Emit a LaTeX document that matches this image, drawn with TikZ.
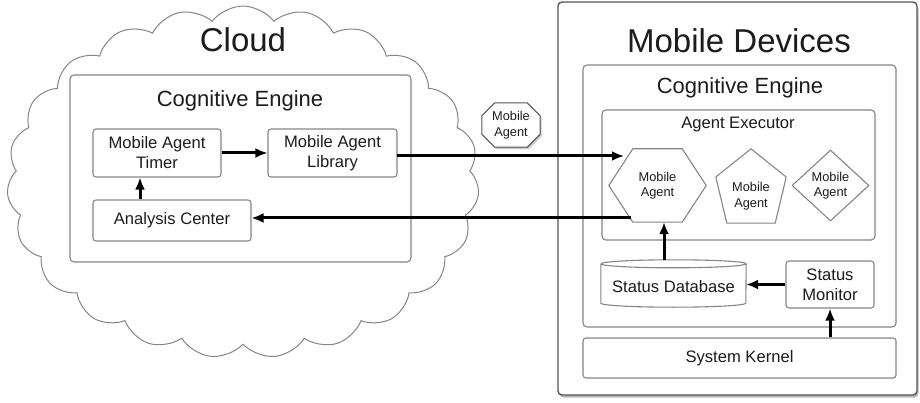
\documentclass[tikz,border=0pt]{standalone}
\usepackage{fontspec}
\setmainfont{Liberation Sans}
\usetikzlibrary{shapes.geometric,shapes.symbols,shadows,calc,arrows.meta}
\definecolor{edge}{HTML}{858585}
\definecolor{frame}{HTML}{555555}
\definecolor{ink}{HTML}{1C1C1C}

\begin{document}
\begin{tikzpicture}[x=1pt,y=-1pt,
  title/.style={font=\fontsize{33}{38}\selectfont, text=ink},
  subtitle/.style={font=\fontsize{22}{26}\selectfont, text=ink},
  label/.style={font=\fontsize{16.6}{20}\selectfont, text=ink, align=center},
  small/.style={font=\fontsize{12.8}{15.5}\selectfont, text=ink, align=center},
  box/.style={draw=edge, line width=1.1pt, rounded corners=3pt, fill=white,
              inner sep=0pt, label},
  container/.style={draw=edge, line width=1.1pt, rounded corners=4pt, inner sep=0pt},
  outline/.style={draw=edge, line width=1.1pt, line join=round},
  arr/.style={draw=black, line width=3pt, -{Latex[length=12pt,width=10pt]}}
]
\useasboundingbox (0,0) rectangle (920,403);

% ---------------- Cloud side ----------------
\node[cloud, cloud puffs=23, cloud puff arc=105, aspect=1.34,
      draw=edge, line width=1pt, fill=white,
      minimum width=472pt, minimum height=352pt] (cloud) at (243,182) {};
\node[title] (cloudtitle) at (243,40) {Cloud};

\node[container, minimum width=341pt, minimum height=187pt] (ceC) at (240.5,168.5) {};
\node[subtitle] (ceCtitle) at (240,101) {Cognitive Engine};

\node[box, minimum width=128pt, minimum height=48pt] (timer) at (157,153) {Mobile Agent\\Timer};
\node[box, minimum width=129pt, minimum height=48pt] (lib) at (332.5,153) {Mobile Agent\\Library};
\node[box, minimum width=158pt, minimum height=41pt] (ac) at (172,220.5) {Analysis Center};

% ---------------- Mobile devices side ----------------
\node[draw=frame, line width=1.4pt, rounded corners=4pt, fill=white,
      drop shadow={shadow xshift=1.5pt, shadow yshift=-2.5pt, opacity=0.55},
      minimum width=359pt, minimum height=393pt] (dev) at (737.5,198.5) {};
\node[title] (devtitle) at (739,41) {Mobile Devices};

\node[container, minimum width=313pt, minimum height=262pt] (ceM) at (739.5,196) {};
\node[subtitle] (ceMtitle) at (740,88) {Cognitive Engine};

\node[container, minimum width=273pt, minimum height=130pt] (exec) at (738.5,175) {};
\node[label] (exectitle) at (738,125) {Agent Executor};

% hexagonal agent
\node[small, minimum width=97pt, minimum height=73pt, inner sep=0pt] (hex) at (657.5,185.5) {Mobile\\Agent};
\draw[outline] (hex.west) -- ($(hex.north west)+(24,0)$) -- ($(hex.north east)+(-24,0)$)
  -- (hex.east) -- ($(hex.south east)+(-24,0)$) -- ($(hex.south west)+(24,0)$) -- cycle;

% pentagonal agent
\node[minimum width=70pt, minimum height=74pt, inner sep=0pt] (pent) at (751,186) {};
\draw[outline] (pent.north) -- ($(pent.west)+(0,-9)$) -- ($(pent.south west)+(11,0)$)
  -- ($(pent.south east)+(-11,0)$) -- ($(pent.east)+(0,-9)$) -- cycle;
\node[small] (penttext) at (751,196) {Mobile\\Agent};

% diamond agent
\node[diamond, outline, small, aspect=1.08, inner sep=0pt,
      minimum width=77pt, minimum height=71pt] (dia) at (830.5,185.5) {Mobile\\Agent};

% status database (cylinder)
\node[minimum width=145pt, minimum height=47pt, inner sep=0pt] (db) at (673.5,283.5) {};
\draw[outline, fill=white] ($(db.north west)+(0,4)$) -- ($(db.south west)+(0,-4)$)
  arc[start angle=180, end angle=360, x radius=72.5pt, y radius=4pt]
  -- ($(db.north east)+(0,4)$)
  arc[start angle=0, end angle=180, x radius=72.5pt, y radius=4pt];
\draw[outline] ($(db.north west)+(0,4)$)
  arc[start angle=180, end angle=360, x radius=72.5pt, y radius=4pt];
\node[label] (dbtext) at (673.5,287) {Status Database};

\node[box, minimum width=88pt, minimum height=47pt] (mon) at (830,284.5) {Status\\Monitor};
\node[box, minimum width=313pt, minimum height=40pt] (kern) at (739.5,358) {System Kernel};

% travelling agent (octagon with a soft shadow)
\node[minimum width=58pt, minimum height=44pt, inner sep=0pt] (travel) at (511,125) {};
\draw[draw=frame, line width=1pt, fill=white, line join=round,
      drop shadow={shadow xshift=1.5pt, shadow yshift=-2pt, opacity=0.45}]
  ($(travel.north west)+(13,0)$) -- ($(travel.north east)+(-13,0)$)
  -- ($(travel.north east)+(0,13)$) -- ($(travel.south east)+(0,-13)$)
  -- ($(travel.south east)+(-13,0)$) -- ($(travel.south west)+(13,0)$)
  -- ($(travel.south west)+(0,-13)$) -- ($(travel.north west)+(0,13)$) -- cycle;
\node[small] (traveltext) at (travel) {Mobile\\Agent};

% ---------------- Connectors ----------------
\coordinate (hexin) at (624,156);
\coordinate (hexout) at (630.5,218);
\coordinate (libout) at (397,156);
\coordinate (upx) at (140,0);
\coordinate (dbx) at (664,0);

\draw[arr] (timer) -- (lib);
\draw[arr] (ac.north -| upx) -- (timer.south -| upx);
\draw[arr] (libout) -- (hexin);
\draw[arr] (hexout) -- (ac.east |- hexout);
\draw[arr] (db.north -| dbx) -- (hex.south -| dbx);
\draw[arr] (mon.west) -- (db.east |- mon.west);
\draw[arr] (kern.north -| mon.south) -- (mon.south);
\end{tikzpicture}
\end{document}
